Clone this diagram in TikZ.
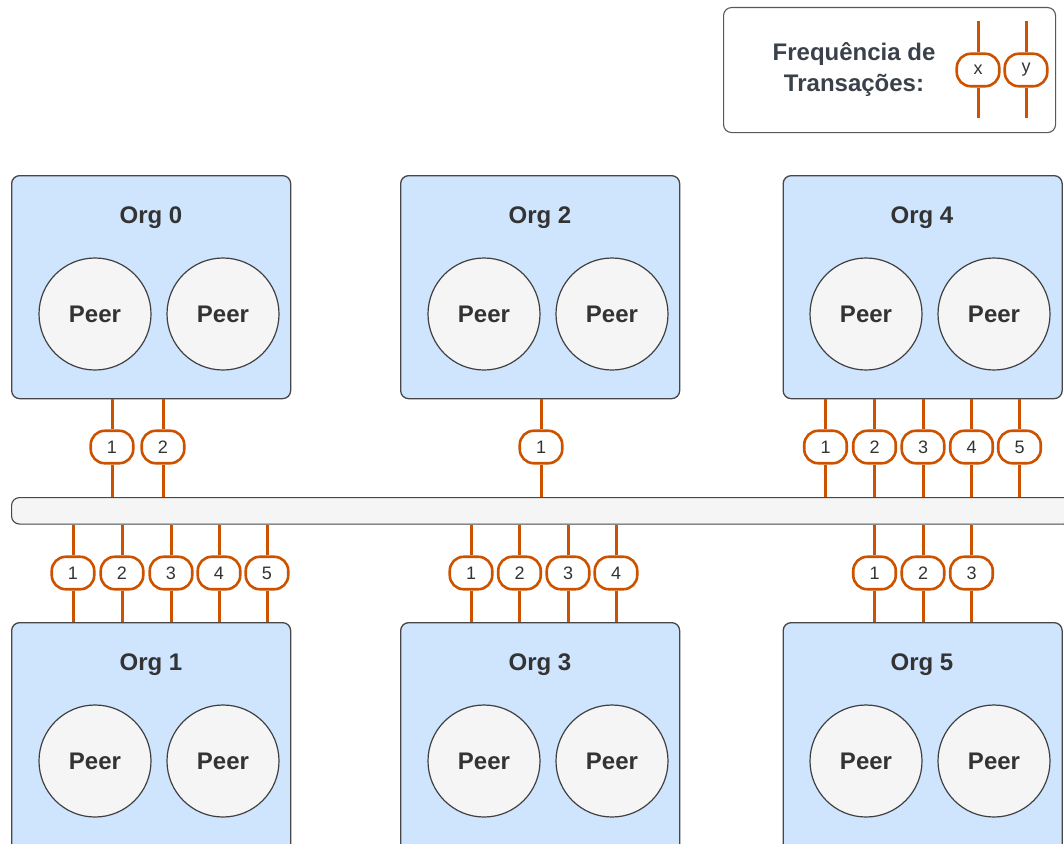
\documentclass[tikz,border=0pt]{standalone}
\usepackage{fontspec}
\setmainfont{Liberation Sans}
\definecolor{orgfill}{HTML}{CFE4FD}
\definecolor{peerfill}{HTML}{F5F5F5}
\definecolor{edge}{HTML}{474747}
\definecolor{wirec}{HTML}{CC5200}
\definecolor{txt}{HTML}{333333}
\definecolor{legtxt}{HTML}{3A414A}
\tikzset{
  orgbox/.style={draw=edge, line width=1.3pt, fill=orgfill, rounded corners=8pt,
    minimum width=279pt, inner sep=0pt, anchor=north west},
  peer/.style={circle, draw=edge!90!black, line width=1.2pt, fill=peerfill, minimum size=112pt,
    inner sep=0pt, font=\fontsize{24}{28}\selectfont\bfseries, text=txt},
  orgtitle/.style={font=\fontsize{24}{28}\selectfont\bfseries, text=txt},
  busbar/.style={draw=edge, line width=1.1pt, fill=peerfill, rounded corners=8pt,
    minimum height=26.5pt, inner sep=0pt, anchor=north west},
  badge/.style={draw=wirec, line width=2.6pt, fill=white, rounded corners=14pt,
    minimum width=42.5pt, minimum height=32.5pt, inner sep=0pt,
    font=\fontsize{18}{20}\selectfont, text=txt},
  wire/.style={draw=wirec, line width=3pt},
}
\begin{document}
\begin{tikzpicture}[x=1pt, y=-1pt]
\clip (0,0) rectangle (1064,843);
\fill[white] (0,0) rectangle (1064,843);

% legend
\node[draw=edge!90, line width=1.1pt, fill=white, rounded corners=8pt, anchor=north west,
  minimum width=332pt, minimum height=125pt, inner sep=0pt] (leg) at (723,7) {};
\node[font=\fontsize{24}{31}\selectfont\bfseries, text=legtxt, align=center] (legt) at (854,70)
  {Frequência de\\Transações:};
\coordinate (lxt) at (978,21); \coordinate (lxb) at (978,118);
\coordinate (lyt) at (1026,21); \coordinate (lyb) at (1026,118);
\node[badge] (bx) at (978,70) {x};
\node[badge] (by) at (1026,70) {y};
\draw[wire] (lxt) -- (bx); \draw[wire] (bx) -- (lxb);
\draw[wire] (lyt) -- (by); \draw[wire] (by) -- (lyb);

% organisations, top row
\node[orgbox, minimum height=223pt] (o0) at (11,175) {};
\node[orgbox, minimum height=223pt] (o2) at (400,175) {};
\node[orgbox, minimum height=223pt] (o4) at (782.5,175) {};
% organisations, bottom row
\node[orgbox, minimum height=240pt] (o1) at (11,622) {};
\node[orgbox, minimum height=240pt] (o3) at (400,622) {};
\node[orgbox, minimum height=240pt] (o5) at (782.5,622) {};

\foreach \o/\x/\y/\t in {o0/151/216/Org 0, o2/540/216/Org 2, o4/922/216/Org 4,
                         o1/151/663/Org 1, o3/540/663/Org 3, o5/922/663/Org 5}{
  \node[orgtitle] (\o-t) at (\x,\y+2) {\t};
  \node[peer] (\o-p1) at (\x-56,\y+98) {Peer};
  \node[peer] (\o-p2) at (\x+72,\y+98) {Peer};
}

% shared bus
\node[busbar, minimum width=1060pt] (bus) at (11,497) {};

% links from the top row to the bus
\foreach \o/\list in {o0/{1/112,2/163}, o2/{1/541}, o4/{1/825.5,2/874.5,3/923,4/971.5,5/1019.5}}{
  \foreach \n/\x in \list {
    \node[badge] (\o-b\n) at (\x,447) {\n};
    \draw[wire] (\o-b\n) -- (\o-b\n |- \o.south);
    \draw[wire] (\o-b\n) -- (\o-b\n |- bus.north);
  }
}
% links from the bus to the bottom row
\foreach \o/\list in {o1/{1/73,2/122,3/171,4/219,5/267}, o3/{1/471,2/519.5,3/568,4/616}, o5/{1/874.5,2/923,3/971.5}}{
  \foreach \n/\x in \list {
    \node[badge] (\o-b\n) at (\x,573) {\n};
    \draw[wire] (\o-b\n) -- (\o-b\n |- bus.south);
    \draw[wire] (\o-b\n) -- (\o-b\n |- \o.north);
  }
}
\end{tikzpicture}
\end{document}
